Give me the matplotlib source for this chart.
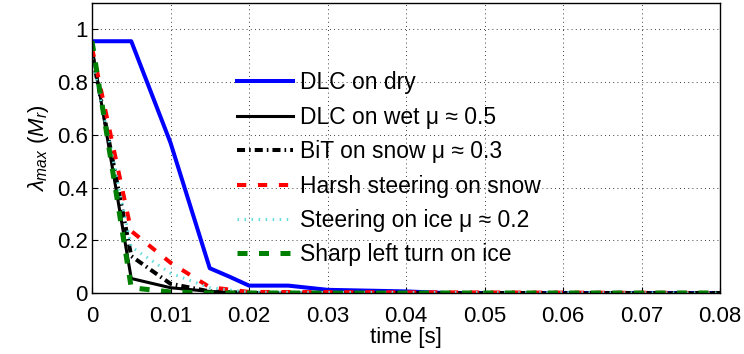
import matplotlib
matplotlib.use("Agg")
import matplotlib.pyplot as plt

plt.rcParams["font.family"] = ["Liberation Sans", "DejaVu Sans"]
plt.rcParams["mathtext.fontset"] = "custom"
plt.rcParams["mathtext.rm"] = "Liberation Sans"
plt.rcParams["mathtext.it"] = "Liberation Sans:italic"

# breakpoints of each run (time in s, lambda_max)
t_dry = [0.0, 0.005, 0.010, 0.015, 0.0175, 0.020, 0.025, 0.030, 0.040, 0.045, 0.080]
l_dry = [0.955, 0.955, 0.57, 0.094, 0.062, 0.028, 0.028, 0.012, 0.006, 0.0, 0.0]

t_wet = [0.0, 0.005, 0.010, 0.015, 0.020, 0.080]
l_wet = [0.93, 0.055, 0.02, 0.006, 0.0, 0.0]

t_bit = [0.0, 0.005, 0.010, 0.015, 0.020, 0.080]
l_bit = [0.91, 0.14, 0.035, 0.006, 0.0, 0.0]

t_harsh = [0.0, 0.005, 0.010, 0.015, 0.020, 0.080]
l_harsh = [0.93, 0.235, 0.115, 0.022, 0.004, 0.0]

t_ice = [0.0, 0.005, 0.010, 0.015, 0.020, 0.080]
l_ice = [0.89, 0.175, 0.075, 0.02, 0.003, 0.0]

t_sharp = [0.0, 0.005, 0.010, 0.015, 0.080]
l_sharp = [0.955, 0.02, 0.004, 0.0, 0.0]

labels = [
    "DLC on dry",
    "DLC on wet \u03bc \u2248 0.5",
    "BiT on snow \u03bc \u2248 0.3",
    "Harsh steering on snow",
    "Steering on ice \u03bc \u2248 0.2",
    "Sharp left turn on ice",
]

fig = plt.figure(figsize=(7.44, 3.54), dpi=100)
# axes box: x 92..720 px, y 3..293 px
ax = fig.add_axes([92 / 744, 61 / 354, 628 / 744, 290 / 354])

ax.plot(t_dry, l_dry, color="#0000ff", lw=2.9, label=labels[0])
ax.plot(t_wet, l_wet, color="black", lw=2.2, label=labels[1])
ax.plot(t_bit, l_bit, color="black", lw=2.9, ls=(0, (2, 1, 0.4, 1)), label=labels[2])
ax.plot(t_harsh, l_harsh, color="red", lw=2.9, ls=(0, (2.3, 2.9)), label=labels[3])
ax.plot(t_ice, l_ice, color="#66dddd", lw=2.2, ls=(0, (0.5, 1.8)), label=labels[4])
ax.plot(t_sharp, l_sharp, color="#008000", lw=3.6, ls=(0, (2.0, 2.3)), label=labels[5])

ax.set_xlim(0, 0.08)
ax.set_ylim(0, 1.1)
ax.set_xticks([0, 0.01, 0.02, 0.03, 0.04, 0.05, 0.06, 0.07, 0.08])
ax.set_xticklabels(["0", "0.01", "0.02", "0.03", "0.04", "0.05", "0.06", "0.07", "0.08"])
ax.set_yticks([0, 0.2, 0.4, 0.6, 0.8, 1.0])
ax.set_yticklabels(["0", "0.2", "0.4", "0.6", "0.8", "1"])
ax.tick_params(labelsize=16, direction="in", length=4, width=0.8)
ax.tick_params(axis="x", pad=9)
ax.tick_params(axis="y", pad=3)
ax.grid(True, color="black", ls=(0, (1, 4)), lw=0.6)
for sp in ax.spines.values():
    sp.set_linewidth(1.0)

ax.set_xlabel("time [s]", fontsize=16, labelpad=0)
ax.set_ylabel(r"$\lambda_{max}$ $(M_r)$", fontsize=16, labelpad=4)

leg = ax.legend(loc="upper left", bbox_to_anchor=(0.231, 0.765), frameon=False,
                fontsize=16.5, handlelength=2.45, labelspacing=0.5, handletextpad=0.3,
                borderpad=0.0, borderaxespad=0.0)

fig.savefig("out.png", dpi=100)
